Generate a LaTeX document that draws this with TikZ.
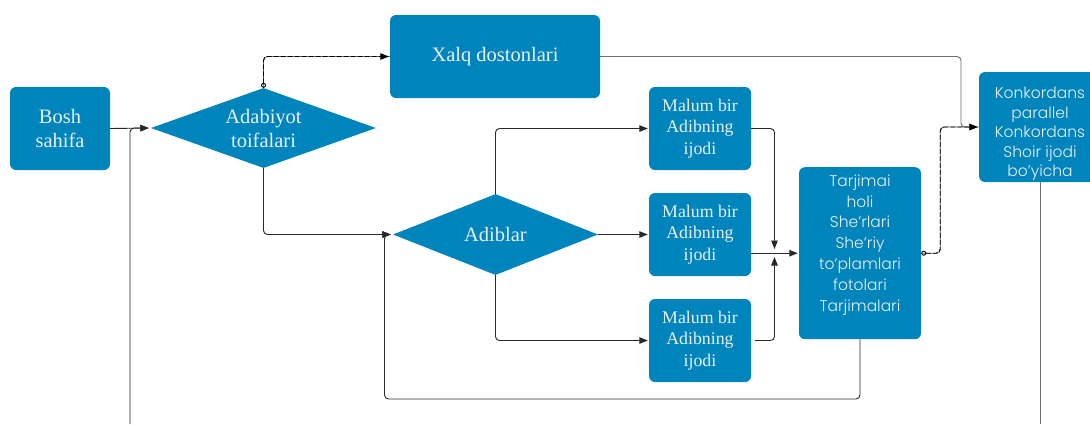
\documentclass[tikz,border=0pt]{standalone}
\usepackage{fontspec}
\setmainfont{Liberation Serif}
\newfontfamily\gothic{Poppins}[UprightFont=* Light]
\usetikzlibrary{shapes.geometric,arrows.meta}
\definecolor{boxblue}{RGB}{0,132,188}
\definecolor{boxtext}{RGB}{232,240,244}
\definecolor{wire}{RGB}{40,40,40}
\definecolor{softwire}{RGB}{110,110,110}
% a centred stack of lines, moved up by #1 without changing the node size
\newcommand{\stacklines}[2]{\raisebox{#1}[0pt][0pt]{\begin{tabular}{@{}c@{}}#2\end{tabular}}}
\begin{document}
\begin{tikzpicture}[x=1pt,y=-1pt,
  blockbox/.style={fill=boxblue,rounded corners=6pt,text=boxtext,align=center,inner sep=0pt},
  decision/.style={diamond,aspect=2.8,fill=boxblue,text=boxtext,align=center,inner sep=0pt},
  serifbig/.style={font=\fontsize{20.5}{24}\selectfont},
  serifsmall/.style={font=\fontsize{17.8}{21.5}\selectfont},
  sansbox/.style={font=\gothic\fontsize{15.5}{20.8}\selectfont},
  sanstight/.style={font=\gothic\fontsize{15.5}{19.5}\selectfont},
  wireline/.style={draw=wire,line width=0.9pt,rounded corners=4pt},
  tip/.style={-{Triangle[length=8.5pt,width=6.5pt]}},
  ring/.style={{Circle[open,length=5pt,width=5pt]}-{Triangle[length=8.5pt,width=6.5pt]}},
  dashlink/.style={draw=black,line width=0.9pt,dash pattern=on 5pt off 2pt,rounded corners=4pt}]
\useasboundingbox (0,0) rectangle (1090,424);
\clip (0,0) rectangle (1090,424);

% blocks
\node[blockbox,serifbig,minimum width=100pt,minimum height=83pt] (bosh) at (60,128.5) {Bosh\\sahifa};
\node[decision,serifbig,minimum width=225pt,minimum height=80pt] (adab) at (263.5,128) {Adabiyot\\toifalari};
\node[blockbox,serifbig,minimum width=210pt,minimum height=83pt] (xalq) at (495,56.5) {Xalq dostonlari};
\node[decision,serifbig,minimum width=205pt,minimum height=81pt] (adib) at (495.5,234.5) {Adiblar};
\node[blockbox,serifsmall,minimum width=102pt,minimum height=83pt] (m1) at (700,128.5) {Malum bir\\Adibning\\ijodi};
\node[blockbox,serifsmall,minimum width=102pt,minimum height=83pt] (m2) at (700,234.5) {Malum bir\\Adibning\\ijodi};
\node[blockbox,serifsmall,minimum width=102pt,minimum height=83pt] (m3) at (700,340.5) {Malum bir\\Adibning\\ijodi};
\node[blockbox,sansbox,minimum width=122pt,minimum height=172pt,anchor=north] (tarj) at (860,167)
  {\stacklines{5pt}{Tarjimai\\holi\\She’rlari\\She’riy\\to‘plamlari\\fotolari\\Tarjimalari}};
\node[blockbox,sanstight,minimum width=122pt,minimum height=110pt] (konk) at (1040,127)
  {\stacklines{-10.5pt}{Konkordans\\parallel\\Konkordans\\Shoir ijodi\\bo’yicha}};

% free ends and junctions
\coordinate (lowin) at (130,424);
\coordinate (loopc) at (384.5,399);
\coordinate (jn) at (774.5,249);
\coordinate (js) at (774.5,257);
\coordinate (kin) at (961,127);
\coordinate (lowout) at (1040,424);

% connectors
\draw[wireline,tip,shorten >=2pt] (bosh.east) -- (adab.west);
\draw[wireline,tip,shorten >=2pt] (lowin) |- (adab.west);
\draw[draw=softwire,line width=0.9pt,rounded corners=4pt] (adab.north) |- (xalq.west);
\draw[dashlink,ring,shorten >=1pt] (adab.north) |- (xalq.west);
\draw[wireline,tip,shorten >=2pt] (adab.south) |- (adib.west);
\draw[wireline,tip,shorten >=2pt] (tarj.south) |- (loopc) |- (adib.west);
\draw[wireline,tip,shorten >=1pt] (adib.north) |- (m1.west);
\draw[wireline,tip,shorten >=1pt] (adib.east) -- (m2.west);
\draw[wireline,tip,shorten >=1pt] (adib.south) |- (m3.west);
\draw[wireline,tip] (m1.east) -| (jn);
\draw[wireline,tip,shorten <=4pt] (m3.east) -| (js);
\draw[wireline,tip,shorten >=1pt] (m2.east |- tarj.west) -- (tarj.west);
\draw[draw=softwire,line width=0.9pt,rounded corners=4pt,tip,shorten >=1pt] (xalq.east) -| (kin) -- (konk.west);
\draw[draw=softwire,line width=0.9pt,rounded corners=4pt] (tarj.east) -- ++(19,0) |- (konk.west);
\draw[dashlink,ring,shorten >=1pt] (tarj.east) -- ++(19,0) |- (konk.west);
\draw[draw=softwire,line width=0.9pt] (konk.south) -- (lowout);
\end{tikzpicture}
\end{document}
